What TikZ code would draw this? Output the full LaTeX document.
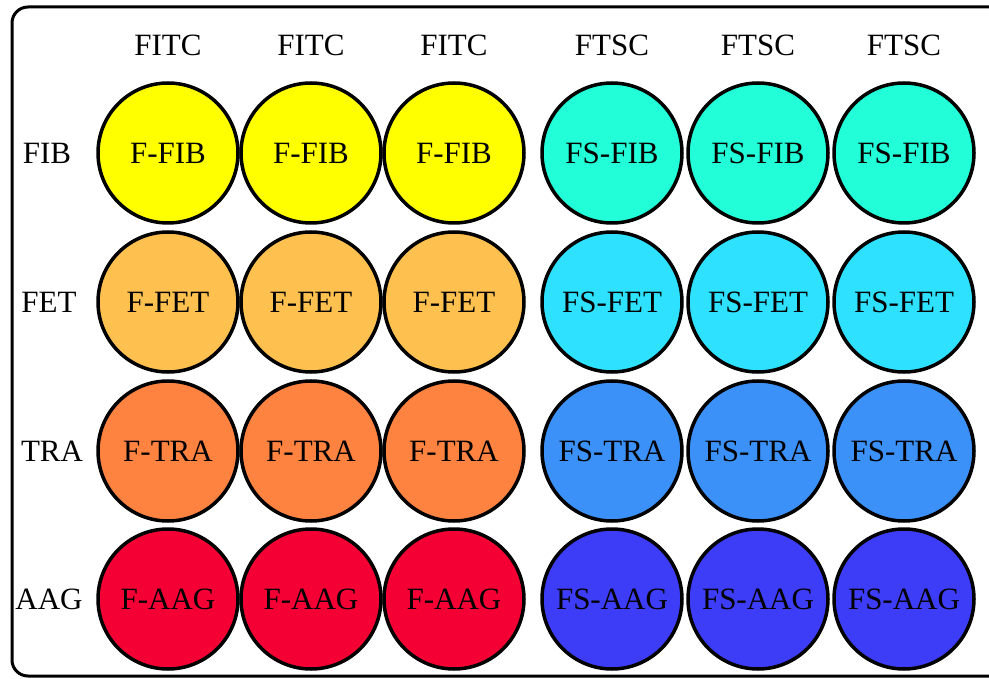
\documentclass[tikz,border=0pt]{standalone}
\usepackage{fontspec}
\setmainfont{Liberation Serif}
\usetikzlibrary{positioning}
\definecolor{fyellow}{HTML}{FFFF00}
\definecolor{fpeach}{HTML}{FEC150}
\definecolor{forange}{HTML}{FF8340}
\definecolor{fred}{HTML}{F50034}
\definecolor{steal}{HTML}{22FFD8}
\definecolor{scyan}{HTML}{2DE1FF}
\definecolor{sblue}{HTML}{3C91F8}
\definecolor{sdeep}{HTML}{3D3DF8}
\begin{document}
\begin{tikzpicture}[x=1pt,y=-1pt,node distance=143pt,
well/.style={circle,draw,line width=3.5pt,minimum size=140pt,inner sep=0pt,font=\fontsize{31}{37}\selectfont},
tag/.style={font=\fontsize{31}{37}\selectfont,inner sep=0pt}]
\useasboundingbox (0,0) rectangle (989,679);
\draw[line width=3pt,rounded corners=16pt] (12,7) rectangle (1020,676);

% first row
\node[well,fill=fyellow] (11) at (168,153) {F-FIB};
\node[well,fill=fyellow] (12) [right of=11] {F-FIB};
\node[well,fill=fyellow] (13) [right of=12] {F-FIB};
\node[well,fill=steal] (14) [right of=13,node distance=158pt] {FS-FIB};
\node[well,fill=steal] (15) [right of=14,node distance=146pt] {FS-FIB};
\node[well,fill=steal] (16) [right of=15,node distance=146pt] {FS-FIB};

% second row
\node[well,fill=fpeach] (21) [below of=11,node distance=149pt] {F-FET};
\node[well,fill=fpeach] (22) [right of=21] {F-FET};
\node[well,fill=fpeach] (23) [right of=22] {F-FET};
\node[well,fill=scyan] (24) [right of=23,node distance=158pt] {FS-FET};
\node[well,fill=scyan] (25) [right of=24,node distance=146pt] {FS-FET};
\node[well,fill=scyan] (26) [right of=25,node distance=146pt] {FS-FET};

% third row
\node[well,fill=forange] (31) [below of=21,node distance=149pt] {F-TRA};
\node[well,fill=forange] (32) [right of=31] {F-TRA};
\node[well,fill=forange] (33) [right of=32] {F-TRA};
\node[well,fill=sblue] (34) [right of=33,node distance=158pt] {FS-TRA};
\node[well,fill=sblue] (35) [right of=34,node distance=146pt] {FS-TRA};
\node[well,fill=sblue] (36) [right of=35,node distance=146pt] {FS-TRA};

% fourth row
\node[well,fill=fred] (41) [below of=31,node distance=148pt] {F-AAG};
\node[well,fill=fred] (42) [right of=41] {F-AAG};
\node[well,fill=fred] (43) [right of=42] {F-AAG};
\node[well,fill=sdeep] (44) [right of=43,node distance=158pt] {FS-AAG};
\node[well,fill=sdeep] (45) [right of=44,node distance=146pt] {FS-AAG};
\node[well,fill=sdeep] (46) [right of=45,node distance=146pt] {FS-AAG};

% column heads
\node[tag] (h1) [above of=11,node distance=108pt] {FITC};
\node[tag] (h2) [above of=12,node distance=108pt] {FITC};
\node[tag] (h3) [above of=13,node distance=108pt] {FITC};
\node[tag] (h4) [above of=14,node distance=108pt] {FTSC};
\node[tag] (h5) [above of=15,node distance=108pt] {FTSC};
\node[tag] (h6) [above of=16,node distance=108pt] {FTSC};

% row heads
\node[tag] (r1) [left of=11,node distance=121pt] {FIB};
\node[tag] (r2) [left of=21,node distance=119pt] {FET};
\node[tag] (r3) [left of=31,node distance=116pt] {TRA};
\node[tag] (r4) [left of=41,node distance=119pt] {AAG};
\end{tikzpicture}
\end{document}
